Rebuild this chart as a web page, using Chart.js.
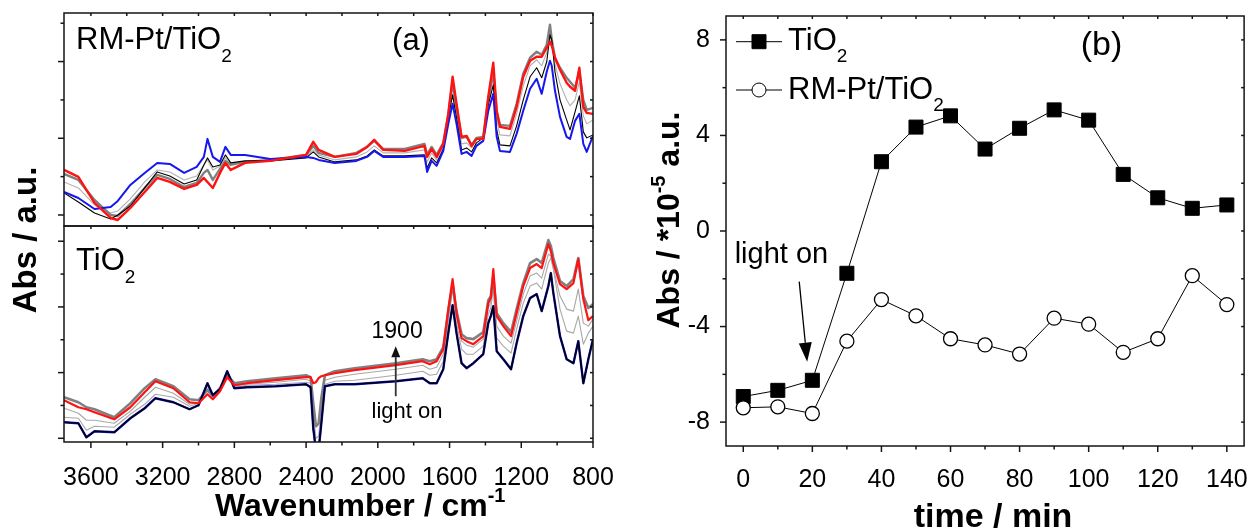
<!DOCTYPE html>
<html>
<head>
<meta charset="utf-8">
<script src="https://cdn.jsdelivr.net/npm/chart.js@4.4.1/dist/chart.umd.min.js"></script>
<style>
  html, body { margin: 0; padding: 0; background: #fff; }
  #wrap { position: relative; width: 1255px; height: 532px; overflow: hidden; }
  canvas { position: absolute; left: 0; top: 0; }
</style>
</head>
<body>
<div id="wrap">
  <canvas id="specTop" width="1255" height="532"></canvas>
  <canvas id="specBot" width="1255" height="532"></canvas>
  <canvas id="kinetics" width="1255" height="532"></canvas>
</div>
<script>
// ---- (a) DRIFT spectra, arbitrary absorbance units ----
const wnTop = [3750, 3670, 3580, 3490, 3450, 3380, 3300, 3230, 3160, 3080, 3010, 2970, 2950, 2920, 2880, 2850, 2820, 2740, 2600, 2400, 2360, 2330, 2240, 2120, 2060, 2020, 1970, 1850, 1740, 1725, 1700, 1672, 1635, 1607, 1583, 1561, 1533, 1505, 1477, 1450, 1412, 1384, 1356, 1337, 1319, 1263, 1226, 1189, 1151, 1114, 1086, 1058, 1040, 1030, 1012, 984, 947, 928, 900, 876, 854, 835, 800];
const topRed = [45, 38, 12, -3, -5, 7, 23, 37, 33, 26, 30, 37, 33, 27, 42, 52, 45, 52, 54, 60, 73, 65, 58, 61, 68, 75, 65, 64, 69, 58, 66, 58, 71, 101, 138, 111, 78, 79, 69, 76, 76, 118, 152, 104, 88, 86, 108, 138, 154, 158, 158, 167, 173, 169, 157, 145, 132, 128, 124, 147, 108, 102, 101];
const topBlue = [23, 17, 6, 8, 14, 30, 42, 52, 51, 42, 48, 58, 76, 58, 53, 68, 60, 60, 56, 58, 57, 55, 52, 54, 58, 64, 58, 58, 59, 43, 54, 49, 64, 91, 111, 91, 61, 63, 59, 69, 74, 104, 121, 78, 64, 63, 81, 104, 126, 136, 121, 143, 154, 149, 124, 98, 78, 76, 94, 101, 71, 63, 79];
const topBlack = [22, 13, 2, -4, 0, 9, 27, 43, 39, 31, 35, 50, 57, 48, 50, 60, 52, 54, 54, 57, 63, 58, 53, 55, 59, 65, 59, 59, 60, 47, 57, 52, 66, 97, 120, 97, 65, 67, 63, 72, 77, 110, 130, 85, 70, 69, 89, 115, 138, 147, 137, 153, 180, 175, 143, 115, 95, 85, 103, 119, 83, 77, 80];
const topGrayDark = [41, 35, 15, 0, -1, 11, 27, 40, 36, 28, 32, 42, 45, 35, 46, 54, 50, 53, 55, 60, 69, 62, 58, 62, 68, 74, 66, 66, 71, 60, 68, 60, 72, 100, 133, 108, 77, 78, 70, 77, 78, 116, 143, 103, 90, 89, 111, 141, 157, 163, 160, 170, 190, 175, 157, 147, 137, 133, 127, 143, 115, 105, 107];
const topGrayLight = [33, 27, 10, 2, 4, 16, 33, 45, 43, 35, 39, 50, 55, 45, 49, 57, 51, 53, 54, 58, 65, 60, 55, 58, 63, 69, 62, 62, 65, 53, 62, 55, 69, 98, 127, 103, 71, 72, 67, 75, 77, 113, 137, 95, 80, 79, 101, 129, 149, 155, 149, 162, 183, 173, 151, 131, 115, 109, 115, 133, 99, 91, 95];

const wnBot = [3750, 3670, 3625, 3580, 3470, 3380, 3300, 3240, 3140, 3050, 3000, 2950, 2920, 2880, 2840, 2800, 2730, 2570, 2400, 2375, 2360, 2345, 2330, 2315, 2295, 2240, 2130, 1900, 1750, 1710, 1672, 1635, 1607, 1583, 1561, 1533, 1505, 1467, 1412, 1384, 1370, 1356, 1337, 1300, 1257, 1226, 1189, 1151, 1114, 1086, 1049, 1035, 1021, 984, 947, 909, 882, 854, 826, 800];
const botRed = [38, 31, 29, 26, 19, 31, 46, 57, 50, 36, 35, 44, 39, 47, 61, 53, 55, 58, 61, 61, 55, 56, 60, 62, 63, 65, 68, 73, 77, 74, 77, 89, 129, 159, 125, 100, 97, 94, 102, 135, 140, 169, 122, 112, 102, 125, 152, 170, 174, 170, 194, 187, 175, 154, 149, 155, 179, 139, 118, 122];
// blue (first spectrum) lies on the black one within reading accuracy
const botBlack = [16, 15, 1, 7, 6, 20, 30, 40, 36, 29, 33, 55, 43, 49, 67, 50, 51, 52, 54, 51, 10, -12, -12, 15, 52, 54, 54, 57, 60, 55, 55, 69, 105, 133, 105, 75, 70, 75, 84, 115, 122, 132, 87, 79, 69, 95, 122, 140, 144, 127, 152, 165, 145, 102, 79, 75, 97, 55, 79, 99];
const botGrayLo = [21, 20, 8, 12, 11, 24, 34, 44, 41, 32, 35, 53, 44, 50, 65, 51, 53, 54, 56, 55, 15, -10, -8, 20, 54, 57, 58, 63, 67, 63, 64, 77, 117, 149, 115, 89, 84, 84, 92, 124, 130, 149, 100, 92, 85, 109, 135, 152, 155, 149, 175, 180, 169, 129, 107, 105, 122, 94, 105, 112];
const botGrayMid = [30, 25, 18, 18, 15, 27, 41, 51, 45, 34, 36, 50, 41, 49, 64, 52, 54, 56, 59, 57, 25, 0, 2, 30, 58, 61, 64, 69, 73, 69, 71, 84, 125, 155, 122, 97, 93, 91, 99, 130, 136, 159, 112, 102, 95, 117, 144, 162, 165, 160, 184, 182, 170, 142, 129, 127, 149, 115, 112, 119];
const botGrayDark = [41, 36, 31, 29, 21, 35, 50, 59, 52, 39, 38, 48, 42, 50, 63, 55, 57, 60, 63, 61, 35, 12, 15, 40, 63, 67, 70, 75, 79, 77, 79, 91, 127, 154, 127, 104, 100, 99, 106, 138, 142, 162, 125, 115, 106, 129, 155, 175, 179, 175, 198, 192, 180, 157, 152, 159, 180, 142, 130, 134];

const wnTicks = [3600, 3200, 2800, 2400, 2000, 1600, 1200, 800];
const wnMinor = [3400, 3000, 2600, 2200, 1800, 1400, 1000];
const topYMajor = [0, 76.6, 153.2];
const topYMinor = [38.3, 114.9, 191.5];
const botYMajor = [0, 65.6, 131.2, 196.8];
const botYMinor = [32.8, 98.4, 164];

// ---- (b) band intensity vs time ----
const timeMin = [0, 10, 20, 30, 40, 50, 60, 70, 80, 90, 100, 110, 120, 130, 140];
const absTiO2 = [-6.93, -6.67, -6.25, -1.77, 2.90, 4.35, 4.82, 3.43, 4.30, 5.07, 4.64, 2.37, 1.39, 0.95, 1.09];
const absRMPt = [-7.40, -7.36, -7.64, -4.61, -2.87, -3.55, -4.51, -4.77, -5.15, -3.65, -3.90, -5.08, -4.51, -1.87, -3.08];
const timeTicks = [0, 20, 40, 60, 80, 100, 120, 140];
const timeMinor = [10, 30, 50, 70, 90, 110, 130];
const absTicks = [-8, -4, 0, 4, 8];
const absMinor = [-6, -2, 2, 6];

const FONT = '"Liberation Sans", Arial, sans-serif';
Chart.defaults.font.family = FONT;
Chart.defaults.color = '#000';

const pts = (xs, ys) => xs.map((x, i) => ({ x: x, y: ys[i] }));

function spectrum(label, xs, ys, color, width) {
    return { label: label, data: pts(xs, ys), borderColor: color, borderWidth: width,
             pointRadius: 0, tension: 0, fill: false, borderJoinStyle: 'round' };
}

// text made of runs: [text, size, bold, dy]
function rich(ctx, x, y, parts, align) {
    const font = p => (p[2] ? 'bold ' : '') + p[1] + 'px ' + FONT;
    let w = 0;
    parts.forEach(p => { ctx.font = font(p); w += ctx.measureText(p[0]).width; });
    let cx = align === 'center' ? x - w / 2 : x;
    ctx.textAlign = 'left';
    ctx.textBaseline = 'alphabetic';
    parts.forEach(p => {
        ctx.font = font(p);
        ctx.fillText(p[0], cx, y + (p[3] || 0));
        cx += ctx.measureText(p[0]).width;
    });
}

function arrow(ctx, x1, y1, x2, y2, headLen, headW, lw) {
    const ang = Math.atan2(y2 - y1, x2 - x1);
    const bx = x2 - headLen * Math.cos(ang), by = y2 - headLen * Math.sin(ang);
    ctx.lineWidth = lw;
    ctx.beginPath(); ctx.moveTo(x1, y1); ctx.lineTo(bx, by); ctx.stroke();
    ctx.beginPath();
    ctx.moveTo(x2, y2);
    ctx.lineTo(bx + headW / 2 * Math.sin(ang), by - headW / 2 * Math.cos(ang));
    ctx.lineTo(bx - headW / 2 * Math.sin(ang), by + headW / 2 * Math.cos(ang));
    ctx.closePath();
    ctx.fill();
}

// frame box + Origin style ticks (out on left/bottom, in on top/right)
function frame(cfg) {
    return {
        id: 'frame',
        afterDraw(chart) {
            const { ctx, chartArea: a, scales } = chart;
            const sx = scales.x, sy = scales.y;
            ctx.save();
            ctx.strokeStyle = '#151515';
            ctx.fillStyle = '#000';
            ctx.lineWidth = 1.5;
            ctx.strokeRect(a.left, a.top, a.right - a.left, a.bottom - a.top);
            const seg = (x1, y1, x2, y2) => { ctx.beginPath(); ctx.moveTo(x1, y1); ctx.lineTo(x2, y2); ctx.stroke(); };
            const xt = (vals, len) => vals.forEach(v => {
                const p = sx.getPixelForValue(v);
                if (cfg.bottom) seg(p, a.bottom, p, a.bottom + len);
                seg(p, a.top, p, a.top + 3);
            });
            const yt = (vals, len) => vals.forEach(v => {
                const p = sy.getPixelForValue(v);
                seg(a.left - len, p, a.left, p);
                seg(a.right, p, a.right - 3, p);
            });
            xt(cfg.xMajor, 6); xt(cfg.xMinor, 3.5);
            yt(cfg.yMajor, 6); yt(cfg.yMinor, 3.5);
            if (cfg.extra) cfg.extra(chart, ctx);
            ctx.restore();
        }
    };
}

const common = {
    responsive: false, animation: false, devicePixelRatio: 1,
    plugins: { legend: { display: false }, tooltip: { enabled: false }, title: { display: false } }
};

new Chart(document.getElementById('specTop'), {
    type: 'line',
    data: { datasets: [
        spectrum('RM-Pt/TiO2 last', wnTop, topRed, '#ff1212', 2.4),
        spectrum('RM-Pt/TiO2 first', wnTop, topBlue, '#1616ee', 2),
        spectrum('RM-Pt/TiO2 dark', wnTop, topBlack, '#000000', 1.1),
        spectrum('RM-Pt/TiO2 t2', wnTop, topGrayDark, '#808080', 2.4),
        spectrum('RM-Pt/TiO2 t1', wnTop, topGrayLight, '#b2b2b2', 1.1)
    ]},
    options: Object.assign({}, common, {
        layout: { padding: { left: 64, top: 13, right: 662, bottom: 306 } },
        scales: {
            x: { type: 'linear', reverse: true, min: 800, max: 3750, display: false },
            y: { min: -11, max: 201.7, display: false }
        }
    }),
    plugins: [frame({
        xMajor: wnTicks, xMinor: wnMinor, yMajor: topYMajor, yMinor: topYMinor, bottom: false,
        extra(chart, ctx) {
            rich(ctx, 76, 49, [['RM-Pt/TiO', 31], ['2', 19, false, 13]]);
            rich(ctx, 411, 50, [['(a)', 31]], 'center');
        }
    })]
});

new Chart(document.getElementById('specBot'), {
    type: 'line',
    data: { datasets: [
        spectrum('TiO2 last', wnBot, botRed, '#ff1212', 2.2),
        spectrum('TiO2 dark', wnBot, botBlack, '#000000', 1.6),
        spectrum('TiO2 first', wnBot, botBlack, '#1616ee', 2.4),
        spectrum('TiO2 t3', wnBot, botGrayDark, '#808080', 2.6),
        spectrum('TiO2 t2', wnBot, botGrayMid, '#a8a8a8', 1.1),
        spectrum('TiO2 t1', wnBot, botGrayLo, '#a8a8a8', 1.1)
    ]},
    options: Object.assign({}, common, {
        layout: { padding: { left: 64, top: 226, right: 662, bottom: 0 } },
        scales: {
            x: {
                type: 'linear', reverse: true, min: 800, max: 3750,
                grid: { display: false }, border: { display: false },
                ticks: { font: { size: 25 }, padding: 13, maxRotation: 0, callback: v => String(v) },
                afterBuildTicks: s => { s.ticks = wnTicks.map(v => ({ value: v })); },
                afterFit: s => { s.height = 90; s.paddingLeft = 0; s.paddingRight = 0; }
            },
            y: { min: -3.7, max: 212, display: false }
        }
    }),
    plugins: [frame({
        xMajor: wnTicks, xMinor: wnMinor, yMajor: botYMajor, yMinor: botYMinor, bottom: true,
        extra(chart, ctx) {
            const sx = chart.scales.x, sy = chart.scales.y;
            rich(ctx, 76, 270, [['TiO', 31], ['2', 19, false, 13]]);
            rich(ctx, sx.getPixelForValue(2035), sy.getPixelForValue(100), [['1900', 23]]);
            rich(ctx, sx.getPixelForValue(2035), sy.getPixelForValue(20), [['light on', 22]]);
            ctx.strokeStyle = '#333'; ctx.fillStyle = '#111';
            arrow(ctx, sx.getPixelForValue(1900), sy.getPixelForValue(42),
                  sx.getPixelForValue(1900), sy.getPixelForValue(92), 11, 9, 1.8);
            ctx.fillStyle = '#000';
            rich(ctx, 215, 516, [['Wavenumber / cm', 32, true], ['-1', 20, true, -14]]);
            ctx.save();
            ctx.translate(36, 240);
            ctx.rotate(-Math.PI / 2);
            rich(ctx, 0, 0, [['Abs / a.u.', 33, true]], 'center');
            ctx.restore();
        }
    })]
});

new Chart(document.getElementById('kinetics'), {
    type: 'line',
    data: { datasets: [
        { label: 'TiO2', data: pts(timeMin, absTiO2), order: 1, borderColor: '#000', borderWidth: 1,
          pointStyle: 'rect', pointRadius: 9.9, pointBackgroundColor: '#000', pointBorderColor: '#000',
          pointBorderWidth: 1, tension: 0 },
        { label: 'RM-Pt/TiO2', data: pts(timeMin, absRMPt), order: 0, borderColor: '#000', borderWidth: 1,
          pointStyle: 'circle', pointRadius: 7, pointBackgroundColor: '#fff', pointBorderColor: '#000',
          pointBorderWidth: 1.3, tension: 0 }
    ]},
    options: Object.assign({}, common, {
        layout: { padding: { left: 0, top: 16, right: 8, bottom: 0 } },
        scales: {
            x: {
                type: 'linear', min: -5, max: 145,
                grid: { display: false }, border: { display: false },
                ticks: { font: { size: 25 }, padding: 11, maxRotation: 0, callback: v => String(v) },
                afterBuildTicks: s => { s.ticks = timeTicks.map(v => ({ value: v })); },
                afterFit: s => { s.height = 86; s.paddingLeft = 0; s.paddingRight = 0; }
            },
            y: {
                min: -9, max: 9,
                grid: { display: false }, border: { display: false },
                ticks: { font: { size: 25 }, padding: 8, callback: v => String(v) },
                afterBuildTicks: s => { s.ticks = absTicks.map(v => ({ value: v })); },
                afterFit: s => { s.width = 726; s.paddingTop = 0; s.paddingBottom = 0; }
            }
        }
    }),
    plugins: [frame({
        xMajor: timeTicks, xMinor: timeMinor, yMajor: absTicks, yMinor: absMinor, bottom: true,
        extra(chart, ctx) {
            const a = chart.chartArea, sx = chart.scales.x, sy = chart.scales.y;
            // legend
            const rows = [[0, 25.7, 'TiO'], [1, 74, 'RM-Pt/TiO']];
            rows.forEach(r => {
                const ds = chart.data.datasets[r[0]];
                const y = a.top + r[1];
                ctx.strokeStyle = '#000'; ctx.lineWidth = 1;
                ctx.beginPath(); ctx.moveTo(a.left + 10, y); ctx.lineTo(a.left + 56, y); ctx.stroke();
                ctx.fillStyle = ds.pointBackgroundColor; ctx.strokeStyle = ds.pointBorderColor;
                Chart.helpers.drawPoint(ctx, { pointStyle: ds.pointStyle, rotation: 0, radius: ds.pointRadius,
                                               borderWidth: ds.pointBorderWidth }, a.left + 33, y);
                ctx.fillStyle = '#000';
                rich(ctx, a.left + 62, y + 8.5, [[r[2], 31], ['2', 19, false, 12]]);
            });
            rich(ctx, sx.getPixelForValue(103.7), sy.getPixelForValue(7.36), [['(b)', 34]], 'center');
            rich(ctx, sx.getPixelForValue(-2.5), sy.getPixelForValue(-1.34), [['light on', 29]]);
            ctx.strokeStyle = '#000'; ctx.fillStyle = '#000';
            arrow(ctx, sx.getPixelForValue(16.2), sy.getPixelForValue(-2.12),
                  sx.getPixelForValue(18.5), sy.getPixelForValue(-5.47), 19, 13, 1.3);
            rich(ctx, 993, 527, [['time / min', 34, true]], 'center');
            ctx.save();
            ctx.translate(679, 220);
            ctx.rotate(-Math.PI / 2);
            rich(ctx, 0, 0, [['Abs / *10', 32, true], ['-5', 20, true, -14], [' a.u.', 32, true]], 'center');
            ctx.restore();
        }
    })]
});
</script>
</body>
</html>
